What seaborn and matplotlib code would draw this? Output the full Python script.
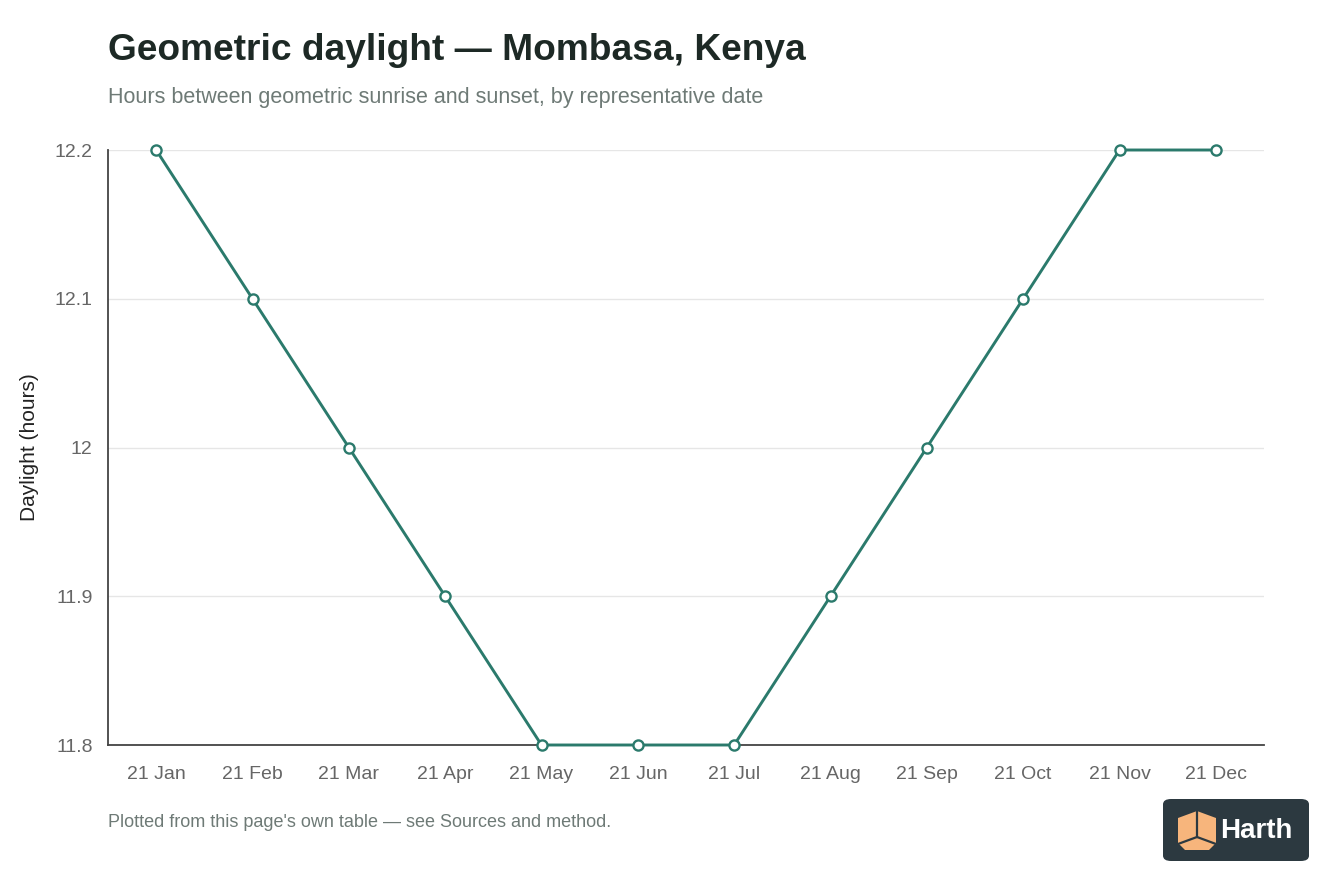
import pandas as pd
import matplotlib.pyplot as plt
import seaborn as sns
from matplotlib.patches import FancyBboxPatch, Polygon
from matplotlib.ticker import FuncFormatter

# ------------------------------------------
# Data
# ------------------------------------------
dates = ["21 Jan", "21 Feb", "21 Mar", "21 Apr", "21 May", "21 Jun",
         "21 Jul", "21 Aug", "21 Sep", "21 Oct", "21 Nov", "21 Dec"]
daylight_hours = [12.2, 12.1, 12.0, 11.9, 11.8, 11.8,
                  11.8, 11.9, 12.0, 12.1, 12.2, 12.2]
y_ticks = [11.8, 11.9, 12.0, 12.1, 12.2]

df = pd.DataFrame({"date": dates, "hours": daylight_hours})

LINE = "#2b7a6c"
TEXT_DARK = "#1d2925"
TEXT_MUTED = "#6e7a76"
TICK = "#666666"

sns.set_theme(style="white")
plt.rcParams["font.family"] = ["Liberation Sans", "DejaVu Sans"]

fig = plt.figure(figsize=(13.44, 8.96), dpi=100)
ax = fig.add_axes([108 / 1344, 1 - 745 / 896, (1264 - 108) / 1344, (745 - 150) / 896])

sns.lineplot(data=df, x="date", y="hours", sort=False, ax=ax,
             color=LINE, linewidth=2.1, marker="o", markersize=7.3,
             markerfacecolor="white", markeredgecolor=LINE, markeredgewidth=1.7,
             clip_on=False, zorder=3)

ax.set_xlim(-0.5, len(dates) - 0.5)
ax.set_ylim(11.8, 12.2)
ax.set_yticks(y_ticks)
ax.yaxis.set_major_formatter(FuncFormatter(lambda v, _: f"{v:g}"))
ax.grid(axis="y", color="#e6e6e6", linewidth=1)
ax.set_axisbelow(True)

for s in ["top", "right"]:
    ax.spines[s].set_visible(False)
for s in ["left", "bottom"]:
    ax.spines[s].set_color("#444444")
    ax.spines[s].set_linewidth(1.3)

ax.tick_params(axis="both", length=0, labelsize=14, labelcolor=TICK)
ax.tick_params(axis="y", pad=11)
ax.tick_params(axis="x", pad=15)
ax.set_xlabel("")
ax.set_ylabel("Daylight (hours)", fontsize=15, color="#222222", labelpad=11)

# titles & footer
fig.text(108 / 1344, 1 - 51 / 896, "Geometric daylight \u2014 Mombasa, Kenya",
         fontsize=26.7, fontweight="bold", color=TEXT_DARK, va="center", ha="left")
fig.text(108 / 1344, 1 - 97 / 896, "Hours between geometric sunrise and sunset, by representative date",
         fontsize=15.5, color=TEXT_MUTED, va="center", ha="left")
fig.text(108 / 1344, 1 - 822 / 896, "Plotted from this page's own table \u2014 see Sources and method.",
         fontsize=13, color=TEXT_MUTED, va="center", ha="left")

# Harth badge
badge = FancyBboxPatch((1163 / 1344, 1 - 861 / 896), 146 / 1344, 62 / 896,
                       boxstyle="round,pad=0,rounding_size=0.006",
                       transform=fig.transFigure, facecolor="#2c3940",
                       edgecolor="none")
fig.patches.append(badge)
cx, cy = 1197, 830
hexpts = [(cx - 19, cy - 12), (cx, cy - 19), (cx + 19, cy - 12),
          (cx + 19, cy + 13), (cx + 12, cy + 20), (cx - 12, cy + 20), (cx - 19, cy + 13)]
fig.patches.append(Polygon([(x / 1344, 1 - y / 896) for x, y in hexpts],
                           closed=True, transform=fig.transFigure,
                           facecolor="#f7b57c", edgecolor="none"))
for seg in [[(cx, cy - 19), (cx, cy + 7)], [(cx, cy + 7), (cx - 19, cy + 14)],
            [(cx, cy + 7), (cx + 19, cy + 14)]]:
    fig.lines.append(plt.Line2D([p[0] / 1344 for p in seg], [1 - p[1] / 896 for p in seg],
                                transform=fig.transFigure, color="#2c3940", linewidth=1.6))
fig.text(1220 / 1344, 1 - 831 / 896, "Harth", fontsize=20, fontweight="bold",
         color="white", va="center", ha="left")

fig.savefig("out.png", dpi=100)
